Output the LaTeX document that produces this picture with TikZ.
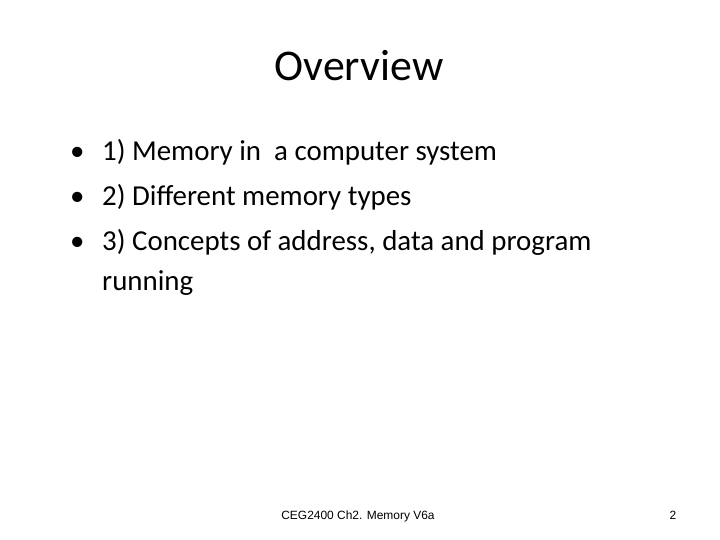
\documentclass[tikz,border=0pt]{standalone}
\usepackage{fontspec}
\setmainfont{Carlito}
\newfontfamily\footfont{Liberation Sans}
\begin{document}
\begin{tikzpicture}[x=1bp,y=-1bp,
  bul/.style={anchor=base west,inner sep=0,font=\fontsize{29}{34}\selectfont},
  foot/.style={anchor=base,inner sep=0,font=\footfont\fontsize{12}{14}\selectfont}]
\useasboundingbox[fill=white] (0,0) rectangle (720,540);
\node[anchor=base,inner sep=0,font=\fontsize{44}{50}\selectfont] (title) at (359,81) {Overview};
\node[bul] (b1) at (70,161) {•};
\node[bul] (t1) at (102,161) {1) Memory in\ \ a computer system};
\node[bul] (b2) at (70,206) {•};
\node[bul] (t2) at (102,206) {2) Different memory types};
\node[bul] (b3) at (70,251) {•};
\node[bul] (t3) at (102,251) {3) Concepts of address, data and program};
\node[bul] (t4) at (102,290) {running};
\node[foot] (f) at (358,519) {CEG2400 Ch2. Memory V6a};
\node[foot] (p) at (673,519) {2};
\end{tikzpicture}
\end{document}
